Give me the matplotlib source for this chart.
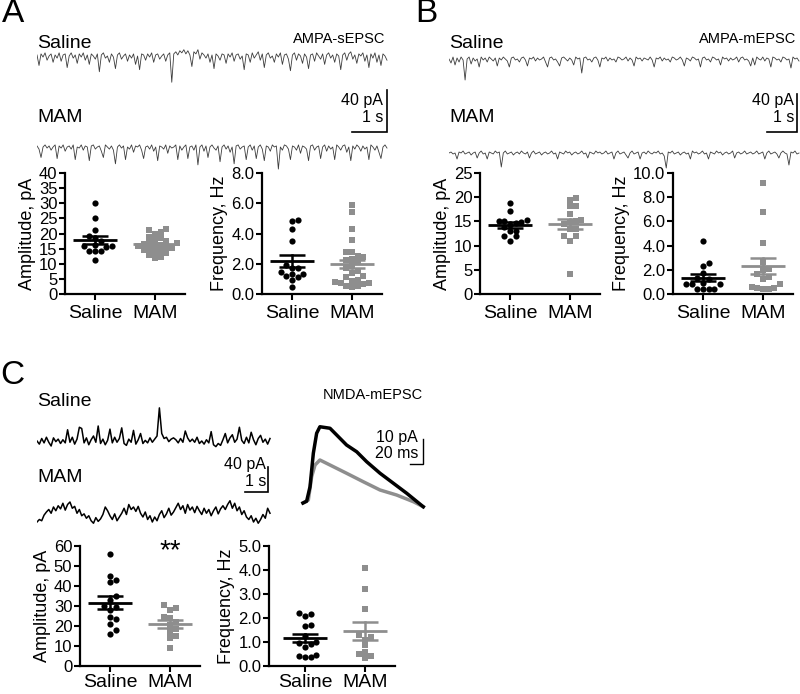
import numpy as np
import matplotlib
matplotlib.use('Agg')
import matplotlib.pyplot as plt

plt.rcParams['font.family'] = ['Liberation Sans', 'DejaVu Sans']

W, H = 800, 694
fig = plt.figure(figsize=(W / 100, H / 100), dpi=100)

BLACK = '#000000'
GRAY = '#8e8e8e'
TRACE_GRAY = '#3c3c3c'

groups = ['Saline', 'MAM']

# ---------------- scatter data ----------------
a_amp_saline = [30, 25, 21, 19.3, 18.5, 17.5, 16.2, 16.0, 16.0, 15.5, 14.2, 14.2, 14.2, 11.4]
a_amp_mam = [21.5, 21.3, 20.5, 20.0, 19.0, 18.5, 18.0, 17.5, 17.0, 16.8, 16.5, 16.3, 16.0,
             15.8, 15.5, 15.3, 15.0, 14.5, 14.2, 14.0, 13.5, 13.0, 12.3, 12.0]
a_freq_saline = [4.9, 4.85, 4.3, 3.5, 1.9, 1.75, 1.7, 1.45, 1.35, 1.3, 1.2, 1.15, 0.95, 0.47]
a_freq_mam = [5.9, 5.45, 4.3, 3.55, 2.8, 2.8, 2.5, 2.45, 2.3, 2.25, 2.1, 1.9, 1.7, 1.5, 1.4,
              1.2, 1.1, 0.95, 0.85, 0.8, 0.75, 0.7, 0.65, 0.55, 0.5, 0.45]
b_amp_saline = [18.7, 17.2, 15.3, 15.1, 15.0, 14.9, 14.6, 14.2, 13.9, 13.1, 13.0, 12.0, 11.9, 11.0]
b_amp_mam = [19.8, 19.4, 18.2, 18.2, 16.5, 15.2, 15.0, 14.8, 14.5, 13.5, 13.5, 11.9, 11.9, 11.0, 4.1]
b_freq_saline = [4.35, 2.6, 2.35, 1.75, 1.3, 1.2, 0.95, 0.85, 0.8, 0.8, 0.45, 0.42, 0.42, 0.4]
b_freq_mam = [9.2, 6.8, 4.25, 2.65, 2.05, 2.0, 1.65, 1.4, 1.25, 0.8, 0.6, 0.5, 0.5, 0.42, 0.42]
c_amp_saline = [55.8, 45, 43, 42, 35, 33, 30, 29.5, 28, 24.5, 23.5, 21, 18, 15.8]
c_amp_mam = [30.5, 29, 28, 24.5, 24, 22, 20.5, 18.5, 17, 15, 14, 9.2]
c_freq_saline = [2.22, 2.15, 2.1, 1.7, 1.65, 1.25, 1.0, 0.95, 0.9, 0.78, 0.45, 0.4, 0.38, 0.38]
c_freq_mam = [4.1, 3.22, 2.39, 1.3, 1.2, 1.1, 0.86, 0.6, 0.49, 0.42, 0.35]

# ---------------- trace data (pA, 10 s sweeps) ----------------
a_trace_saline = [1, -9, 2, -1, 3, -4, 0, 2, -6, 1, -2, 3, -5, 1, 2, -11, 0, 3, -2, 1, -7, 2, -1, 3, -4,
                  1, -8, 2, 0, -3, 2, -15, 1, 3, -2, 0, -6, 2, -1, -12, 1, 3, -3, 0, 2, -5, 1, -2, 2, -8,
                  0, -13, 2, 1, -4, 2, -1, 3, -6, 1, 2, -3, 0, 2, -5, 1, 3, -25, 2, 4, 1, 5, 3, 6, 2,
                  5, 1, -10, 4, 2, 6, -3, 3, 1, -2, 2, -6, 1, -12, 2, 0, -4, 2, 1, -7, 2, -1, 3, -5, 1,
                  2, -3, 0, -13, 2, 1, -6, 3, -2, 1, 4, -4, 2, -11, 1, 3, -2, 0, -6, 2, -1, 3, -8, 1, 2,
                  -3, -14, 1, 3, -4, 2, 0, -7, 2, -1, -12, 1, 2, -5, 3, 0, -3, 2, -8, 1, 3, -2, 1, -6, 2,
                  0, -13, 1, 3, -4, 2, 4, -3, 1, -7, 2, 0, 3, -5, 1, -11, 2, -2, 3, -6, 1, -9, 2, 0, -4]
a_trace_mam = [1, -2, -10, 0, 2, -1, 1, -3, 0, 2, -11, 1, -1, 2, -4, 0, 1, -2, 2, -12, 0, -1, 2, -3, 1,
               0, -13, 1, 2, -2, 0, 1, -4, -10, 2, 0, -2, 1, -3, -16, 0, 2, -1, 1, -12, 0, -2, 2, -5, 1,
               0, 2, -3, -11, 0, 1, -2, 2, -4, 0, -13, 1, 0, -2, 2, -6, 1, -1, 0, 2, -12, 1, -3, 0, 2,
               -11, 0, 1, -3, 2, -17, 0, 2, -4, 1, -10, 0, 2, -1, -3, 1, -14, 0, 2, -2, 1, -5, 0, -16, 1,
               2, -2, 0, 1, -12, 0, 2, -3, 1, -11, 0, 2, -2, -13, 1, 0, -4, 2, 0, 1, -21, 0, -3, 2, 1,
               -2, -12, 1, 0, -3, 2, -6, 1, 0, -2, -13, 1, 2, -3, 0, 1, -11, 0, 2, -4, 1, -2, 0, -12, 2,
               0, -3, 1, 2, -5, 0, -13, 1, -2, 2, 0, -4, 1, -2, 0, -12, 2, 0, -3, 1, -5, -11, 0, 2, -1]
b_trace_saline = [0, -4, 2, -6, 1, -3, 2, -1, -21, 0, 2, -5, 1, -2, 0, -8, 2, -1, 1, -3, 2, 0, -2, 1, -7,
                  1, -1, 2, 0, -2, -8, 1, 2, -1, 0, -3, 1, 2, -1, -7, 1, 0, 2, -2, 1, -1, 0, 2, -3, -8,
                  1, 2, -1, 0, -3, -7, 1, 2, 0, -2, 1, -1, -6, 2, 0, 1, -14, 1, 2, -1, 0, -3, 1, 2, -1,
                  -8, 1, 0, 2, -2, 1, -1, 0, -3, 2, 1, -1, 0, 2, -2, 1, -1, -7, 2, 0, 1, -2, 1, 0, -1,
                  2, -1, -8, 1, 0, 2, -2, 1, -1, 0, -3, 2, 1, -1, 0, 2, -1, -7, 1, 0, -2, 2, 1, -1, 0,
                  -8, 1, 2, -1, 0, -3, 2, 1, -1, 0, -6, 2, 0, 1, -2, 1, -1, 0, 2, -3, 1, 2, -1, 0, -2,
                  -7, 1, -6, 2, 0, -1, 2, -2, 1, 0, -8, 2, 1, -1, 0, -3, 2, 1, -1, 0, -9, 2, 0, 1, -2]
b_trace_mam = [0, 1, -1, 0, -6, 1, 0, 2, -1, 0, 1, -2, 0, 1, -5, 0, 2, -1, 0, -6, 1, 0, -1, 2, 0,
               1, -14, 0, 2, -1, 0, 1, -2, 0, 1, -1, 2, 0, -1, 1, -5, 0, 2, -1, 0, 1, -2, 0, 1, -1,
               0, 2, -1, 0, -6, 1, 0, -1, 2, 0, 1, -2, 0, 1, -1, 0, 2, -1, 0, -5, 1, 0, -1, 2, 0,
               1, -1, 0, 2, -1, 0, 1, -6, 0, 2, -1, 0, 1, -2, -5, 0, 2, -1, 0, 1, -6, 0, 1, -1, 2,
               0, -1, 1, 0, 2, -1, 0, -3, -15, 1, 0, 2, -1, 0, 1, -2, 0, 1, -1, 0, -6, 2, 0, 1, -1,
               0, 2, -1, 0, -6, 1, 0, -1, 2, 0, 1, -2, 0, 1, -1, 0, 2, -5, 0, 1, -1, 0, 2, -1, 0,
               1, -1, 0, 2, -1, 0, 1, -6, 0, 2, -1, 0, 1, -1, -5, 0, 2, 0, -1, -12, 1, 0, 2, -1, 0]
c_trace_saline = [0, -5, 4, -3, 6, -2, -8, 5, -1, 3,
                  -4, 2, -3, 18, -2, 6, -5, 3, 22, 20,
                  -3, 5, -6, 2, 8, -2, 24, -4, 3, -6,
                  1, 19, -3, 6, -2, 4, 21, -4, -7, 3,
                  -2, 17, -5, 2, 12, -4, 1, -3, 5, -2,
                  3, 8, 53, 12, 4, 6, -1, 3, 5, 2,
                  -3, 4, -2, 16, 5, -1, 3, -2, 6, -4,
                  0, -5, 2, -3, 15, -6, -9, -4, -7, 2,
                  12, -3, 5, 10, -2, 3, 22, 1, -4, 6,
                  -3, 14, 2, -6, 4, 9, -2, 3, -5, 4]
c_trace_mam = [-16, -12, -14, -5, 0, 4, -2, 8, 2, 10,
               5, 14, 3, 12, 16, 6, 9, -2, 4, -6,
               -3, -10, -6, -14, -18, -9, -15, -11, -4, 8,
               2, -6, -12, -3, -14, -8, -2, 6, -4, 12,
               4, 8, 1, 9, -2, -8, 0, -12, -6, -16,
               -8, -14, -4, 2, -9, -3, 6, -5, 0, 7,
               14, 4, 10, -2, 12, 3, 8, -1, 9, 2,
               -4, 6, -2, 4, -6, 2, 8, -3, 5, 10,
               4, 12, 18, 6, 14, 2, 8, -4, 2, -8,
               -12, -6, -16, -10, -18, -12, -4, -10, 6, -2]
# averaged NMDA mEPSC (time ms, current pA)
nmda_t_saline = [0, 5.6, 10.8, 15.9, 21, 26, 41.5, 51.8, 67, 82.6, 98, 118.5, 139, 159.5, 185]
nmda_i_saline = [0, 0.7, 6.5, 19.9, 27.9, 30.5, 29.9, 27.2, 23.2, 20.5, 16.5, 11.9, 7.9, 3.9, -1.5]
nmda_t_mam = [0, 8.2, 13.3, 18.5, 26, 41.5, 67, 92.8, 118.5, 144, 170, 185]
nmda_i_mam = [0, 1.2, 10.5, 15.2, 17.2, 15.2, 11.9, 8.5, 5.2, 3.2, 0.5, -1.5]


def fbox(x0, y0, x1, y1):
    return [x0 / W, 1 - y1 / H, (x1 - x0) / W, (y1 - y0) / H]


def ptext(x, y, s, size, ha='left', va='center', **kw):
    fig.text(x / W, 1 - y / H, s, fontsize=size, ha=ha, va=va, **kw)


def swarm(vals, px_per_y, d):
    vals = np.asarray(vals, float)
    order = np.argsort(vals)
    placed = []
    offs = np.zeros(len(vals))
    cands = [0.0]
    for j in range(1, 30):
        cands += [j * d, -j * d]
    for i in order:
        y = vals[i] * px_per_y
        for c in cands:
            if all((c - px) ** 2 + (y - py) ** 2 >= (d * 0.98) ** 2 for px, py in placed):
                break
        placed.append((c, y))
        offs[i] = c
    return offs


def scatter_panel(px_box, sal, mam, ymax, ystep, fmt, ylabel, xmin=-0.5, xpad=4):
    x0, y0, x1, y1 = px_box
    ax = fig.add_axes(fbox(*px_box))
    ax.set_xlim(xmin, 1.5)
    ax.set_ylim(0, ymax)
    px_x = (x1 - x0) / (1.5 - xmin)
    px_y = (y1 - y0) / ymax
    for k, (vals, col, mk, sz) in enumerate([(sal, BLACK, 'o', 20), (mam, GRAY, 's', 16)]):
        off = swarm(vals, px_y, 5.6) / px_x
        ax.scatter(k + off, vals, s=sz, marker=mk, color=col, linewidths=0, zorder=3,
                   clip_on=False)
        m = np.mean(vals)
        se = np.std(vals, ddof=1) / np.sqrt(len(vals))
        ax.plot([k - 0.36, k + 0.36], [m, m], color=col, lw=2, zorder=4, solid_capstyle='butt')
        ax.plot([k, k], [m - se, m + se], color=col, lw=1.8, zorder=4)
        for v in (m - se, m + se):
            ax.plot([k - 0.22, k + 0.22], [v, v], color=col, lw=1.8, zorder=4,
                    solid_capstyle='butt')
    for s in ('top', 'right'):
        ax.spines[s].set_visible(False)
    for s in ('left', 'bottom'):
        ax.spines[s].set_linewidth(1.6)
    ax.set_xticks([0, 1])
    ax.set_xticklabels(groups, fontsize=14)
    yt = np.arange(0, ymax + ystep / 2, ystep)
    ax.set_yticks(yt)
    ax.set_yticklabels([fmt.format(v) for v in yt], fontsize=12)
    ax.tick_params(axis='both', direction='out', length=4, width=1.5, pad=1.5)
    ax.tick_params(axis='x', pad=xpad)
    ax.set_ylabel(ylabel, fontsize=13, labelpad=2)
    return ax


def trace_axes(x0, x1, ytop, ybot, px_s, px_pA, base):
    ax = fig.add_axes(fbox(x0, ytop, x1, ybot))
    ax.set_xlim(0, (x1 - x0) / px_s)
    ax.set_ylim((base - ybot) / px_pA, (base - ytop) / px_pA)
    ax.axis('off')
    return ax


def scale_bar(ax, t_c, i_c, dt, di, lw=1.2):
    ax.plot([t_c - dt, t_c, t_c], [i_c, i_c, i_c + di], color='k', lw=lw,
            solid_joinstyle='miter', clip_on=False)


# ---------------- Panel A ----------------
ptext(2, 14, 'A', 24)
ptext(37, 44, 'Saline', 14)
ptext(385, 39, 'AMPA-sEPSC', 10.5, ha='right')
ptext(37, 117, 'MAM', 14)
ax = trace_axes(37, 392, 40, 175, 35, 1.05, 56)
ta = np.linspace(0, 10, len(a_trace_saline))
ax.plot(ta, a_trace_saline, color=TRACE_GRAY, lw=0.6)
tm = np.linspace(0, 10, len(a_trace_mam))
ax.plot(tm, np.asarray(a_trace_mam) - (147 - 56) / 1.05, color=TRACE_GRAY, lw=0.6)
scale_bar(ax, (387 - 37) / 35, (56 - 132) / 1.05, 1, 40)
ptext(383, 100, '40 pA', 11.5, ha='right')
ptext(383, 118, '1 s', 11.5, ha='right')

scatter_panel((65, 173, 185, 294), a_amp_saline, a_amp_mam, 40, 5, '{:.0f}', 'Amplitude, pA')
scatter_panel((262, 173, 382, 294), a_freq_saline, a_freq_mam, 8, 2, '{:.1f}', 'Frequency, Hz')

# ---------------- Panel B ----------------
ptext(415, 14, 'B', 24)
ptext(449, 44, 'Saline', 14)
ptext(796, 39, 'AMPA-mEPSC', 10.5, ha='right')
ptext(449, 117, 'MAM', 14)
ax = trace_axes(449, 800, 40, 175, 35, 1.0, 59)
tb = np.linspace(0, 10, len(b_trace_saline))
ax.plot(tb, b_trace_saline, color=TRACE_GRAY, lw=0.6)
tbm = np.linspace(0, 10, len(b_trace_mam))
ax.plot(tbm, np.asarray(b_trace_mam) - (153 - 59) / 1.0, color=TRACE_GRAY, lw=0.6)
scale_bar(ax, (797 - 449) / 35, (59 - 132) / 1.0, 30 / 35, 38)
ptext(794, 100, '40 pA', 11.5, ha='right')
ptext(794, 118, '1 s', 11.5, ha='right')

scatter_panel((480, 173, 600, 294), b_amp_saline, b_amp_mam, 25, 5, '{:.0f}', 'Amplitude, pA')
scatter_panel((673, 173, 793, 294), b_freq_saline, b_freq_mam, 10, 2, '{:.1f}', 'Frequency, Hz')

# ---------------- Panel C ----------------
ptext(0, 376, 'C', 24)
ptext(37, 401, 'Saline', 14)
ptext(37, 478, 'MAM', 14)
ax = trace_axes(37, 275, 400, 540, 23.3, 25 / 40, 441)
tc = np.linspace(0, 10, len(c_trace_saline))
ax.plot(tc, c_trace_saline, color='k', lw=1.1)
tcm = np.linspace(0, 10, len(c_trace_mam))
ax.plot(tcm, np.asarray(c_trace_mam) - (512 - 441) / (25 / 40), color='k', lw=1.1)
scale_bar(ax, (268 - 37) / 23.3, (441 - 492) / (25 / 40), 1, 40)
ptext(266, 464, '40 pA', 11.5, ha='right')
ptext(266, 481, '1 s', 11.5, ha='right')

ptext(373, 395, 'NMDA-mEPSC', 10.5, ha='center')
axn = fig.add_axes(fbox(300, 420, 430, 512))
axn.set_xlim(-(303 - 300) / 0.65, (430 - 303) / 0.65)
axn.set_ylim((503 - 512) / 2.5, (503 - 420) / 2.5)
axn.axis('off')
axn.plot(nmda_t_mam, nmda_i_mam, color=GRAY, lw=2.5)
axn.plot(nmda_t_saline, nmda_i_saline, color='k', lw=2.5)
scale_bar(axn, (423 - 303) / 0.65, (503 - 464) / 2.5, 20, 10, lw=1.0)
ptext(418, 437, '10 pA', 11.5, ha='right')
ptext(418, 454, '20 ms', 11.5, ha='right')

axc = scatter_panel((80, 546, 200, 666), c_amp_saline, c_amp_mam, 60, 10, '{:.0f}',
                    'Amplitude, pA', xpad=1.5)
axc.text(1, 57.5, '**', ha='center', va='center', fontsize=20)
scatter_panel((269, 546, 395, 666), c_freq_saline, c_freq_mam, 5, 1, '{:.1f}', 'Frequency, Hz',
              xmin=-0.6, xpad=1.5)

fig.savefig('out.png', dpi=100)
